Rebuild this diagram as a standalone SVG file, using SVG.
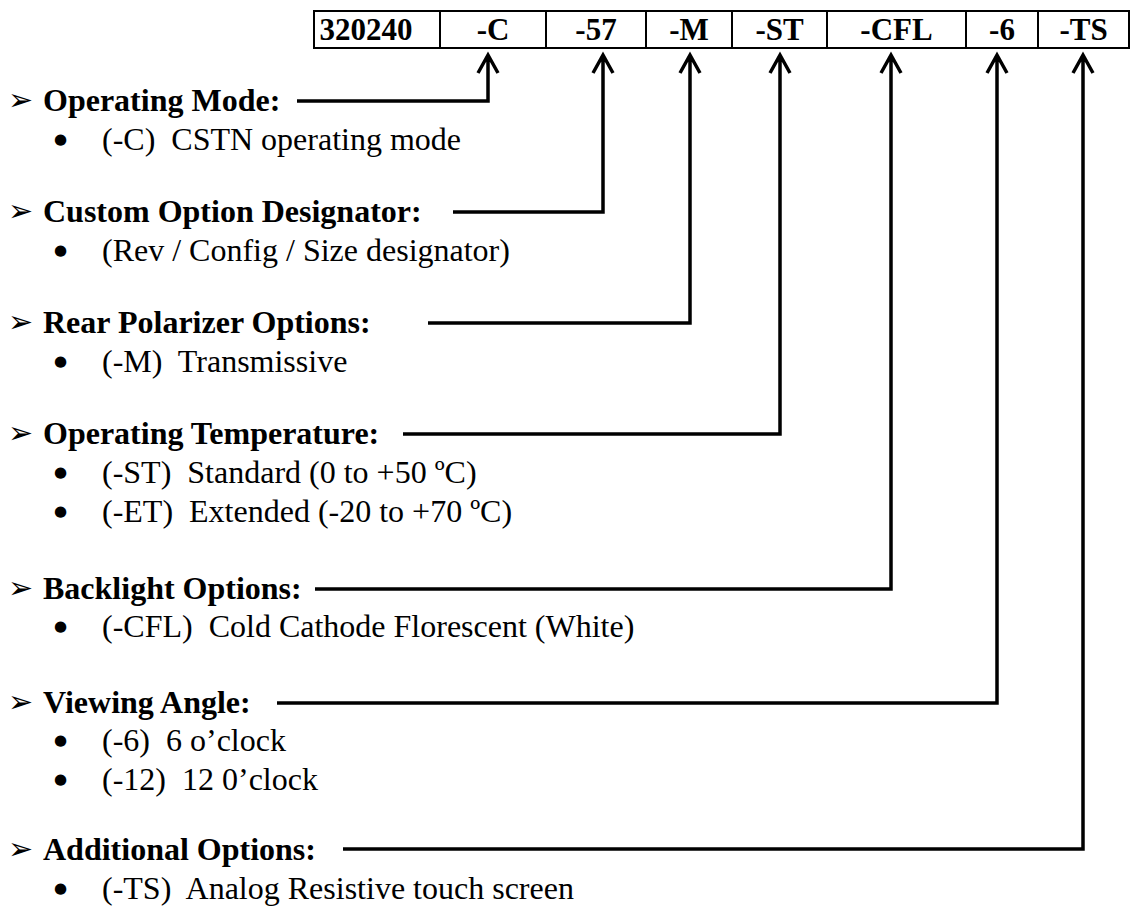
<svg xmlns="http://www.w3.org/2000/svg" width="1139" height="910" viewBox="0 0 1139 910">
<style>
.cell{fill:#fff;stroke:#000;stroke-width:2}
.code{font-family:"Liberation Serif",serif;font-weight:bold;font-size:31px;fill:#000;text-anchor:middle}
.head{font-family:"Liberation Serif",serif;font-weight:bold;font-size:32px;fill:#000}
.item{font-family:"Liberation Serif",serif;font-size:32px;fill:#000;white-space:pre}
.mark{font-family:"DejaVu Sans",sans-serif;font-size:30px;fill:#000}
.dot{font-family:"DejaVu Sans",sans-serif;font-size:15px;fill:#000}
.conn{fill:none;stroke:#000;stroke-width:3.5;stroke-linejoin:miter}
</style>
<rect width="1139" height="910" fill="#fff"/>
<g id="table">
<rect class="cell" x="314" y="11" width="815" height="37"/>
<path d="M440,11V48M546,11V48M646,11V48M732,11V48M827,11V48M966,11V48M1038,11V48" stroke="#000" stroke-width="2"/>
<text class="code" x="366" y="40">320240</text>
<text class="code" x="493" y="40">-C</text>
<text class="code" x="596" y="40">-57</text>
<text class="code" x="689" y="40">-M</text>
<text class="code" x="779.5" y="40">-ST</text>
<text class="code" x="896.5" y="40">-CFL</text>
<text class="code" x="1002" y="40">-6</text>
<text class="code" x="1083.5" y="40">-TS</text>
</g>
<g id="connectors">
<path class="conn" d="M297,101H488V55M478,73L488,55L498,73"/>
<path class="conn" d="M453,212H603V55M593,73L603,55L613,73"/>
<path class="conn" d="M428,323H690V55M680,73L690,55L700,73"/>
<path class="conn" d="M403,434H780V55M770,73L780,55L790,73"/>
<path class="conn" d="M315,589H891V55M881,73L891,55L901,73"/>
<path class="conn" d="M277,703H997V55M987,73L997,55L1007,73"/>
<path class="conn" d="M343,849H1083V55M1073,73L1083,55L1093,73"/>
</g>
<g id="operating-mode">
<text class="mark" x="8" y="110">➢</text>
<text class="head" x="43" y="111">Operating Mode:</text>
<text class="dot" x="54" y="144">●</text>
<text class="item" x="102" y="150">(-C)  CSTN operating mode</text>
</g>
<g id="custom-option">
<text class="mark" x="8" y="221">➢</text>
<text class="head" x="43" y="222">Custom Option Designator:</text>
<text class="dot" x="54" y="255">●</text>
<text class="item" x="102" y="261">(Rev / Config / Size designator)</text>
</g>
<g id="rear-polarizer">
<text class="mark" x="8" y="332">➢</text>
<text class="head" x="43" y="333">Rear Polarizer Options:</text>
<text class="dot" x="54" y="366">●</text>
<text class="item" x="102" y="372">(-M)  Transmissive</text>
</g>
<g id="operating-temperature">
<text class="mark" x="8" y="443">➢</text>
<text class="head" x="43" y="444">Operating Temperature:</text>
<text class="dot" x="54" y="477">●</text>
<text class="item" x="102" y="483">(-ST)  Standard (0 to +50 ºC)</text>
<text class="dot" x="54" y="516">●</text>
<text class="item" x="102" y="522">(-ET)  Extended (-20 to +70 ºC)</text>
</g>
<g id="backlight">
<text class="mark" x="8" y="598">➢</text>
<text class="head" x="43" y="599">Backlight Options:</text>
<text class="dot" x="54" y="631">●</text>
<text class="item" x="102" y="637">(-CFL)  Cold Cathode Florescent (White)</text>
</g>
<g id="viewing-angle">
<text class="mark" x="8" y="712">➢</text>
<text class="head" x="43" y="713">Viewing Angle:</text>
<text class="dot" x="54" y="745">●</text>
<text class="item" x="102" y="751">(-6)  6 o’clock</text>
<text class="dot" x="54" y="784">●</text>
<text class="item" x="102" y="790">(-12)  12 0’clock</text>
</g>
<g id="additional-options">
<text class="mark" x="8" y="859">➢</text>
<text class="head" x="43" y="860">Additional Options:</text>
<text class="dot" x="54" y="893">●</text>
<text class="item" x="102" y="899">(-TS)  Analog Resistive touch screen</text>
</g>
</svg>
